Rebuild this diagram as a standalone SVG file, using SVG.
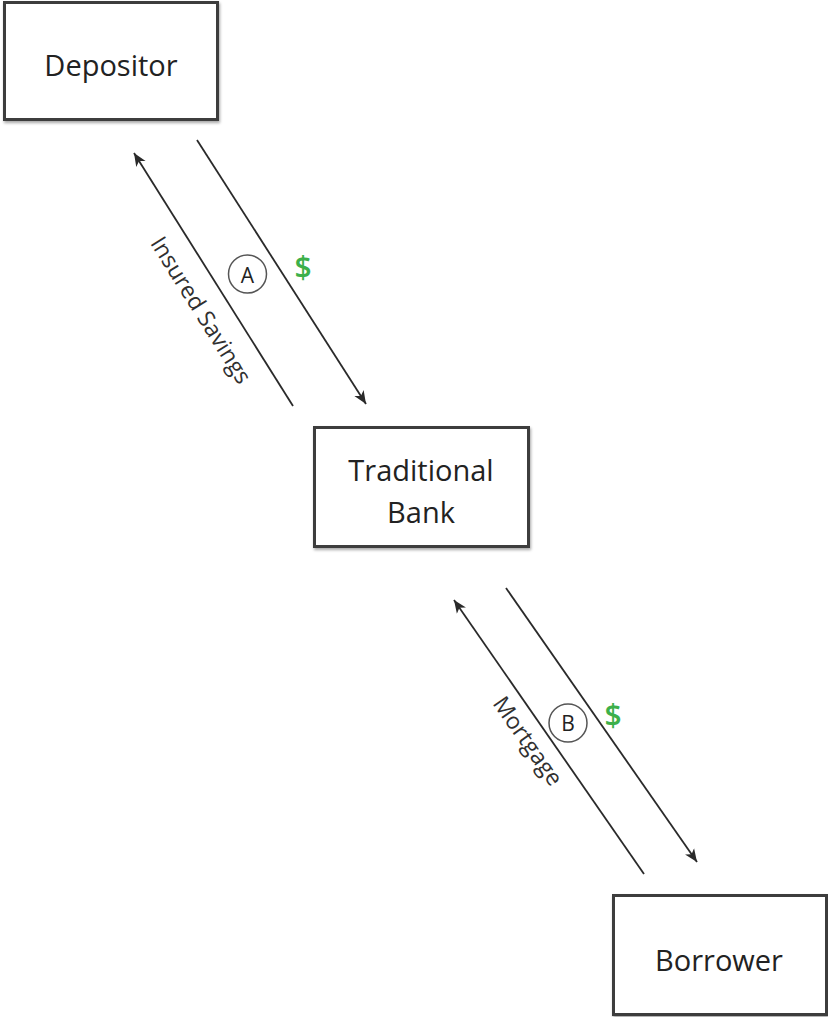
<svg xmlns="http://www.w3.org/2000/svg" width="828" height="1017" viewBox="0 0 828 1017">
  <style>
    .box { fill: #ffffff; stroke: #3c3c3c; stroke-width: 3; }
    .lbl { font-family: "Open Sans", "Liberation Sans", sans-serif; font-size: 29px; fill: #222222; text-anchor: middle; }
    .rot { font-family: "Open Sans", "Liberation Sans", sans-serif; font-size: 23px; fill: #303030; text-anchor: middle; }
    .conn { stroke: #2a2a2a; stroke-width: 1.8; fill: none; }
    .badge { fill: #ffffff; stroke: #555555; stroke-width: 1.5; }
    .badgetxt { font-family: "Open Sans", "Liberation Sans", sans-serif; font-size: 21px; fill: #222222; text-anchor: middle; }
    .dollar { font-family: "Open Sans", "Liberation Sans", sans-serif; font-size: 30px; font-weight: 600; fill: #3cb04a; text-anchor: middle; }
  </style>
  <defs>
    <filter id="shadow" x="-10%" y="-10%" width="125%" height="125%">
      <feGaussianBlur in="SourceAlpha" stdDeviation="1.5"/>
      <feOffset dx="1" dy="2" result="b"/>
      <feComponentTransfer><feFuncA type="linear" slope="0.35"/></feComponentTransfer>
      <feMerge><feMergeNode/><feMergeNode in="SourceGraphic"/></feMerge>
    </filter>
    <marker id="arrow" viewBox="0 0 14 12" refX="13" refY="6" markerWidth="14" markerHeight="12" markerUnits="userSpaceOnUse" orient="auto">
      <path d="M0,0.5 L13,6 L0,11.5 L3.5,6 Z" fill="#2a2a2a"/>
    </marker>
  </defs>
  <rect width="828" height="1017" fill="#ffffff"/>

  <g id="connectors">
    <line class="conn" x1="293" y1="406" x2="134" y2="153" marker-end="url(#arrow)"/>
    <line class="conn" x1="197" y1="140" x2="366" y2="404" marker-end="url(#arrow)"/>
    <line class="conn" x1="644" y1="874" x2="454" y2="600" marker-end="url(#arrow)"/>
    <line class="conn" x1="506" y1="588" x2="697" y2="862" marker-end="url(#arrow)"/>
    <text class="rot" transform="translate(201,310) rotate(58)" dy="8">Insured Savings</text>
    <text class="rot" transform="translate(528,741) rotate(55)" dy="8">Mortgage</text>
    <g id="badgeA">
      <circle class="badge" cx="247.5" cy="274" r="19"/>
      <text class="badgetxt" x="247.5" y="283">A</text>
    </g>
    <g id="badgeB">
      <circle class="badge" cx="568" cy="723" r="19"/>
      <text class="badgetxt" x="568" y="731">B</text>
    </g>
    <text class="dollar" x="303" y="278">$</text>
    <text class="dollar" x="613" y="726">$</text>
  </g>

  <g id="depositor">
    <rect class="box" x="4.5" y="2.5" width="213" height="117" filter="url(#shadow)"/>
    <text class="lbl" x="111" y="76">Depositor</text>
  </g>

  <g id="bank">
    <rect class="box" x="314.5" y="427.5" width="214" height="119" filter="url(#shadow)"/>
    <text class="lbl" x="421" y="481">Traditional</text>
    <text class="lbl" x="421" y="523">Bank</text>
  </g>

  <g id="borrower">
    <rect class="box" x="613.5" y="895.5" width="213" height="119" filter="url(#shadow)"/>
    <text class="lbl" x="719" y="971">Borrower</text>
  </g>
</svg>
